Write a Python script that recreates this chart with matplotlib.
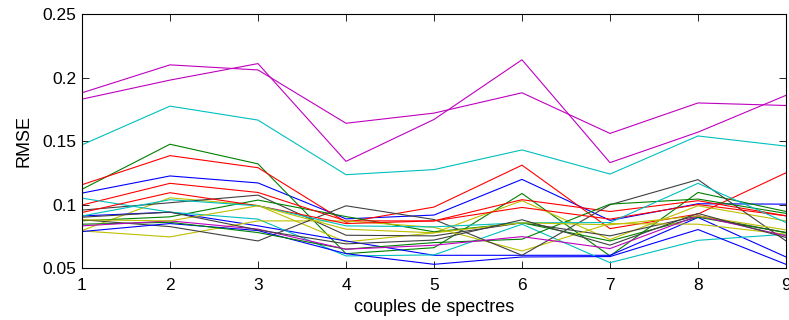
import matplotlib
matplotlib.use("Agg")
import matplotlib.pyplot as plt

couples = [1, 2, 3, 4, 5, 6, 7, 8, 9]

blue_1 = [0.109, 0.1225, 0.117, 0.0887, 0.0917, 0.1198, 0.0875, 0.1006, 0.1003]
green_1 = [0.112, 0.1475, 0.132, 0.0613, 0.066, 0.1087, 0.0595, 0.1095, 0.0945]
red_1 = [0.1156, 0.1385, 0.129, 0.086, 0.098, 0.131, 0.081, 0.0925, 0.125]
cyan_1 = [0.147, 0.1775, 0.1665, 0.1235, 0.1275, 0.143, 0.124, 0.154, 0.146]
magenta_1 = [0.188, 0.210, 0.206, 0.164, 0.172, 0.188, 0.156, 0.180, 0.178]
yellow_1 = [0.0795, 0.1053, 0.0993, 0.0705, 0.0777, 0.103, 0.0724, 0.099, 0.0871]
black_1 = [0.0956, 0.1014, 0.1074, 0.0758, 0.0753, 0.0856, 0.0753, 0.0911, 0.0779]

blue_2 = [0.091, 0.094, 0.0832, 0.0713, 0.0600, 0.0600, 0.0600, 0.0898, 0.0587]
green_2 = [0.0872, 0.0903, 0.1035, 0.0905, 0.0785, 0.0856, 0.0713, 0.0900, 0.0779]
red_2 = [0.0996, 0.1167, 0.1095, 0.0871, 0.0871, 0.1038, 0.0945, 0.103, 0.0911]
cyan_2 = [0.105, 0.0940, 0.0885, 0.0595, 0.0603, 0.0845, 0.0542, 0.0718, 0.0766]
magenta_2 = [0.183, 0.198, 0.211, 0.134, 0.167, 0.214, 0.133, 0.157, 0.186]
yellow_2 = [0.0792, 0.0745, 0.0871, 0.0871, 0.0820, 0.0634, 0.0850, 0.0845, 0.0766]
black_2 = [0.088, 0.0826, 0.0713, 0.099, 0.0882, 0.0600, 0.0998, 0.1196, 0.0713]

blue_3 = [0.0787, 0.085, 0.0795, 0.0613, 0.0529, 0.0587, 0.0590, 0.0803, 0.0529]
green_3 = [0.0845, 0.086, 0.0779, 0.0648, 0.070, 0.0727, 0.1003, 0.1043, 0.0930]
red_3 = [0.0937, 0.1093, 0.0990, 0.0850, 0.0871, 0.0977, 0.0885, 0.1000, 0.0911]
cyan_3 = [0.0910, 0.1038, 0.0990, 0.0832, 0.0824, 0.0856, 0.0858, 0.1167, 0.0858]
magenta_3 = [0.0832, 0.0871, 0.0806, 0.0648, 0.0679, 0.0747, 0.0653, 0.0911, 0.0753]
yellow_3 = [0.0880, 0.0871, 0.0990, 0.0806, 0.0777, 0.0856, 0.0840, 0.0911, 0.0800]
black_3 = [0.0900, 0.0940, 0.0800, 0.0690, 0.0720, 0.0880, 0.0680, 0.0930, 0.0740]

series = [
    blue_1, green_1, red_1, cyan_1, magenta_1, yellow_1, black_1,
    blue_2, green_2, red_2, cyan_2, magenta_2, yellow_2, black_2,
    blue_3, green_3, red_3, cyan_3, magenta_3, yellow_3, black_3,
]
# matlab default color order
colors = ["#0000ff", "#008000", "#ff0000", "#00bfbf", "#bf00bf", "#bfbf00", "#404040"]

plt.rcParams["font.family"] = ["Liberation Sans", "DejaVu Sans"]

fig = plt.figure(figsize=(7.89, 3.2), dpi=100)
ax = fig.add_axes([0.1039, 0.1625, 0.8923, 0.7935])

for i, s in enumerate(series):
    ax.plot(couples, s, color=colors[i % 7], lw=0.8)

ax.set_xlim(1, 9)
ax.set_ylim(0.05, 0.25)
ax.set_xticks(couples)
ax.set_xticklabels([str(c) for c in couples])
ax.set_yticks([0.05, 0.1, 0.15, 0.2, 0.25])
ax.set_yticklabels(["0.05", "0.1", "0.15", "0.2", "0.25"])
ax.tick_params(direction="in", top=True, right=True, labelsize=12.5, length=5, width=0.6)
ax.tick_params(axis="x", pad=7)
ax.tick_params(axis="y", pad=4)
for sp in ax.spines.values():
    sp.set_linewidth(0.8)
ax.set_xlabel("couples de spectres", fontsize=13, labelpad=4.5)
ax.set_ylabel("RMSE", fontsize=13, labelpad=7)

fig.savefig("out.png", dpi=100)
